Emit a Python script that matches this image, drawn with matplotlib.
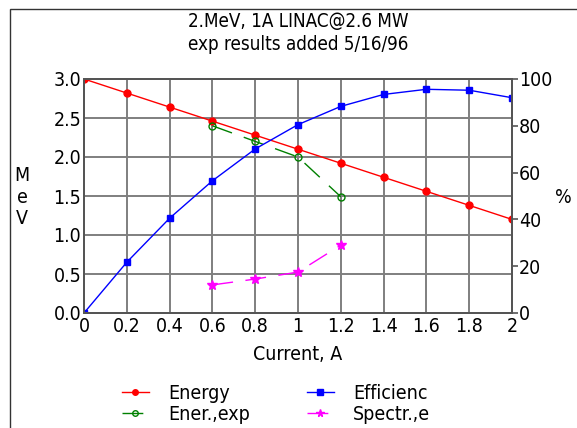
import matplotlib
matplotlib.use("Agg")
import matplotlib.pyplot as plt
from matplotlib.patches import Rectangle

plt.rcParams['font.family'] = ['DejaVu Sans']
plt.rcParams['font.stretch'] = 'condensed'

# data
current = [0, 0.2, 0.4, 0.6, 0.8, 1.0, 1.2, 1.4, 1.6, 1.8, 2.0]
energy = [3.0, 2.82, 2.64, 2.46, 2.28, 2.10, 1.92, 1.74, 1.56, 1.38, 1.20]
efficiency = [0, 21.7, 40.5, 56.5, 70.1, 80.5, 88.3, 93.4, 95.6, 95.2, 92.0]

exp_current = [0.6, 0.8, 1.0, 1.2]
energy_exp = [2.40, 2.20, 2.00, 1.49]
spectr_e = [12.0, 14.5, 17.5, 29.0]

xticks = [0, 0.2, 0.4, 0.6, 0.8, 1, 1.2, 1.4, 1.6, 1.8, 2]
xticklabels = ['0', '0.2', '0.4', '0.6', '0.8', '1', '1.2', '1.4', '1.6', '1.8', '2']
yticks_l = [0.0, 0.5, 1.0, 1.5, 2.0, 2.5, 3.0]
yticks_r = [0, 20, 40, 60, 80, 100]

W, H = 577, 428
fs = 14
fig = plt.figure(figsize=(W / 100, H / 100), dpi=100)
ax = fig.add_axes([84 / W, 1 - 313 / H, (512 - 84) / W, (313 - 79) / H])
ax2 = ax.twinx()

ax.set_xlim(0, 2)
ax.set_ylim(0, 3)
ax2.set_ylim(0, 100)

gc = '#7f7f7f'
for x in xticks:
    ax.axvline(x, color=gc, lw=1.4, zorder=0)
for y in yticks_l:
    ax.axhline(y, color=gc, lw=1.4, zorder=0)

l1, = ax.plot(current, energy, color='red', marker='o', ms=5, lw=1, label='Energy')
l3, = ax.plot(exp_current, energy_exp, color='green', marker='o', ms=5, mfc='none',
              lw=1, dashes=(15, 9), label='Ener.,exp')
l2, = ax2.plot(current, efficiency, color='blue', marker='s', ms=5, lw=1, label='Efficienc')
l4, = ax2.plot(exp_current, spectr_e, color='magenta', marker='*', ms=7, lw=1,
               dashes=(15, 9), label='Spectr.,e')

ax.set_xticks(xticks)
ax.set_xticklabels(xticklabels)
ax.set_yticks(yticks_l)
ax.set_yticklabels(['%.1f' % v for v in yticks_l])
ax2.set_yticks(yticks_r)

for a in (ax, ax2):
    for s in a.spines.values():
        s.set_color('#555555')
        s.set_linewidth(1.4)
ax.tick_params(axis='both', length=0, pad=2, labelsize=fs)
ax.tick_params(axis='x', pad=3)
ax2.tick_params(axis='y', length=4, width=1.2, color='#555555', pad=1, labelsize=fs)

ax.set_xlabel('Current, A', fontsize=fs, labelpad=6)
fig.text(22 / W, 1 - 197 / H, 'M\ne\nV', fontsize=fs, ha='center', va='center',
         linespacing=1.15)
fig.text(563 / W, 1 - 197 / H, '%', fontsize=fs, ha='center', va='center')

fig.text(298 / W, 1 - 21 / H, '2.MeV, 1A LINAC@2.6 MW', fontsize=13.5, ha='center', va='center')
fig.text(298 / W, 1 - 45 / H, 'exp results added 5/16/96', fontsize=13.5, ha='center', va='center')

fig.legend([l1, l3, l2, l4], ['Energy', 'Ener.,exp', 'Efficienc', 'Spectr.,e'],
           ncol=2, frameon=False, fontsize=fs, loc='upper left',
           bbox_to_anchor=(112 / W, 1 - 374 / H), handlelength=1.4,
           handletextpad=1.0, columnspacing=2.9, labelspacing=0.1,
           borderpad=0, markerscale=0.8)

fig.add_artist(Rectangle((10 / W, -0.1), 2, 1.1 - 9 / H,
                         transform=fig.transFigure, fill=False,
                         edgecolor='#333333', lw=1))

fig.savefig('out.png', dpi=100)
